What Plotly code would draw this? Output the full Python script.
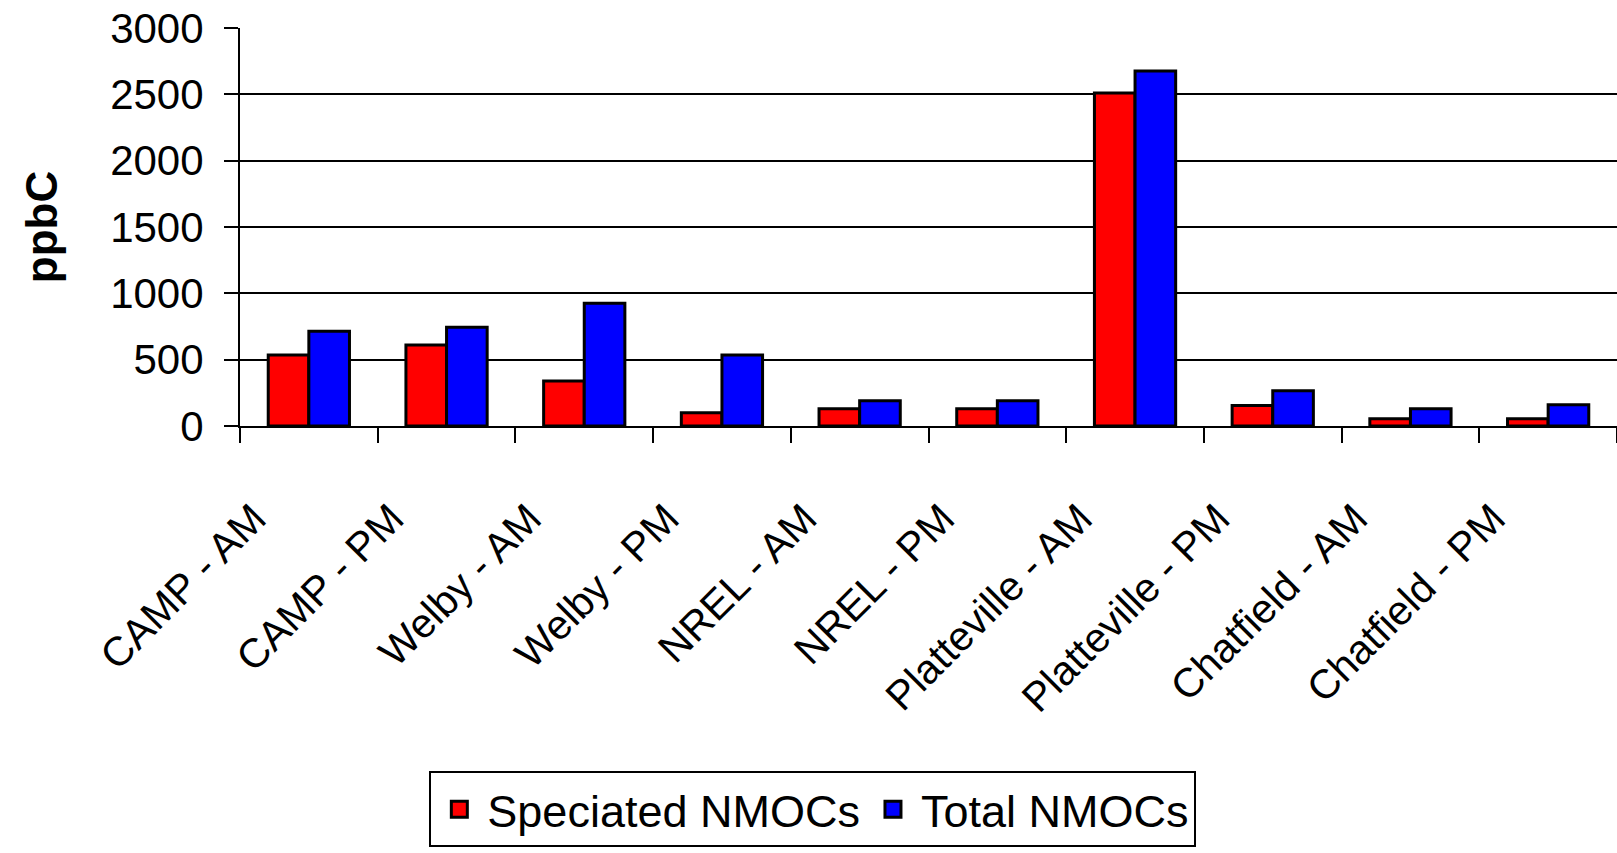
import plotly.graph_objects as go

categories = ["CAMP - AM", "CAMP - PM", "Welby - AM", "Welby - PM", "NREL - AM",
              "NREL - PM", "Platteville - AM", "Platteville - PM", "Chatfield - AM", "Chatfield - PM"]
speciated = [535, 610, 340, 100, 130, 130, 2510, 155, 55, 55]
total = [715, 745, 925, 535, 190, 190, 2675, 265, 130, 160]
series_names = ["Speciated NMOCs", "Total NMOCs"]
series_colors = ["#FF0000", "#0000FF"]
y_ticks = [0, 500, 1000, 1500, 2000, 2500, 3000]

FONT = "Liberation Sans, Arial, sans-serif"

fig = go.Figure()
for name, vals, col in zip(series_names, [speciated, total], series_colors):
    fig.add_trace(go.Bar(
        x=categories, y=vals, name=name, showlegend=False,
        marker=dict(color=col, line=dict(color="black", width=3)),
    ))
# legend entries (larger square symbols)
for name, col in zip(series_names, series_colors):
    fig.add_trace(go.Scatter(
        x=[None], y=[None], mode="markers", name=name,
        marker=dict(symbol="square", size=16, color=col, line=dict(color="black", width=3)),
    ))

fig.update_layout(
    width=1617, height=853, autosize=False,
    margin=dict(l=240, r=0, t=28, b=427, pad=0),
    paper_bgcolor="white", plot_bgcolor="white",
    barmode="group", bargap=0.41, bargroupgap=0,
    font=dict(family=FONT, size=42, color="black"),
    showlegend=True,
    legend=dict(
        orientation="h", x=0.416, xanchor="center", y=-0.868, yanchor="top",
        bordercolor="black", borderwidth=2, bgcolor="white",
        font=dict(family=FONT, size=45, color="black"),
        itemsizing="trace", itemwidth=46,
    ),
)
fig.update_xaxes(
    type="category", range=[-0.5, 9.5],
    showline=True, linecolor="black", linewidth=2,
    ticks="outside", tickson="boundaries", ticklen=15, tickwidth=2, tickcolor="black",
    tickangle=-45, tickfont=dict(family=FONT, size=41, color="black"),
    ticklabelstandoff=50, ticklabelshift=-55,
    showgrid=False, zeroline=False,
)
fig.update_yaxes(
    range=[0, 3000], tickvals=y_ticks,
    showline=True, linecolor="black", linewidth=2,
    ticks="outside", ticklen=14, tickwidth=2, tickcolor="black",
    tickfont=dict(family=FONT, size=42, color="black"),
    ticklabelstandoff=12,
    showgrid=True, gridcolor="black", gridwidth=1.5,
    zeroline=False,
    title=dict(text="<b>ppbC</b>", font=dict(family=FONT, size=44, color="black"), standoff=39),
)

fig.write_html("out.html")
